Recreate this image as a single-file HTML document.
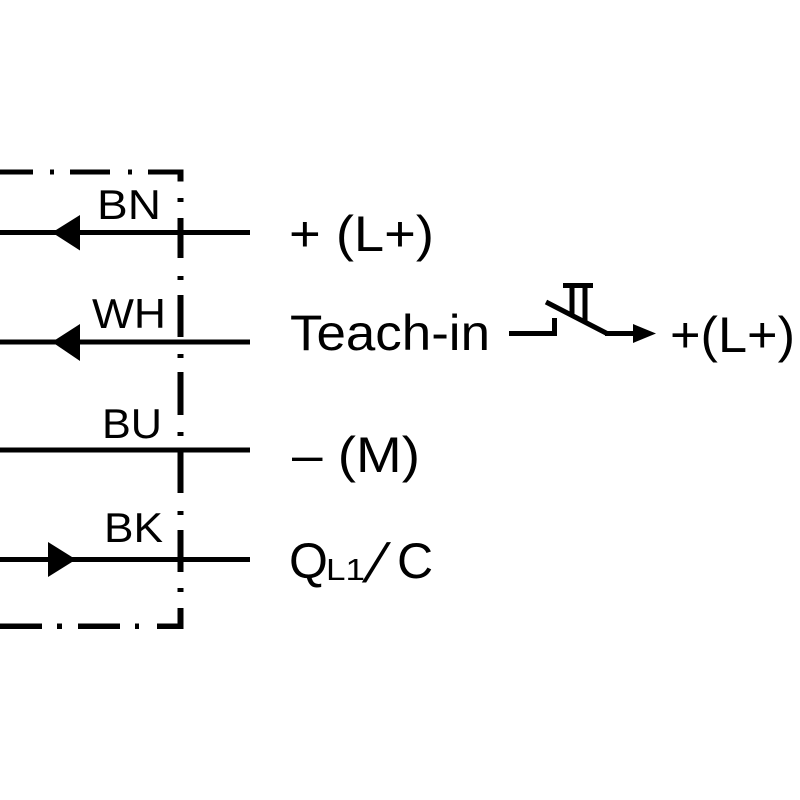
<!DOCTYPE html>
<html>
<head>
<meta charset="utf-8">
<style>
  html,body{margin:0;padding:0;background:#fff;}
  svg{display:block;}
  text{font-family:"Liberation Sans", sans-serif; fill:#000;}
</style>
</head>
<body>
<svg width="800" height="800" viewBox="0 0 800 800" xmlns="http://www.w3.org/2000/svg">
  <rect width="800" height="800" fill="#fff"/>

  <!-- Top border dash-dot -->
  <g fill="#000">
    <rect x="0" y="169.5" width="33" height="5"/>
    <rect x="50" y="169.5" width="4" height="5"/>
    <rect x="70" y="169.5" width="40" height="5"/>
    <rect x="128" y="169.5" width="4" height="5"/>
    <rect x="148" y="169.5" width="35.5" height="5"/>

    <!-- Bottom border -->
    <rect x="0" y="623.5" width="42" height="5.5"/>
    <rect x="57" y="623.5" width="5" height="5.5"/>
    <rect x="78" y="623.5" width="42" height="5.5"/>
    <rect x="135" y="623.5" width="4" height="5.5"/>
    <rect x="157" y="623.5" width="26.5" height="5.5"/>

    <!-- Vertical right border -->
    <rect x="177.5" y="169.5" width="6" height="12"/>
    <rect x="177.5" y="198" width="6" height="4"/>
    <rect x="177.5" y="218" width="6" height="40"/>
    <rect x="177.5" y="276" width="6" height="4"/>
    <rect x="177.5" y="295" width="6" height="42"/>
    <rect x="177.5" y="354" width="6" height="4"/>
    <rect x="177.5" y="372" width="6" height="43"/>
    <rect x="177.5" y="432" width="6" height="4"/>
    <rect x="177.5" y="450" width="6" height="43"/>
    <rect x="177.5" y="511" width="6" height="4"/>
    <rect x="177.5" y="530" width="6" height="42"/>
    <rect x="177.5" y="588" width="6" height="4"/>
    <rect x="177.5" y="608" width="6" height="21"/>

    <!-- Wires -->
    <rect x="0" y="230" width="250" height="5"/>
    <rect x="0" y="339.5" width="250" height="5"/>
    <rect x="0" y="447.5" width="250" height="5"/>
    <rect x="0" y="557" width="250" height="5"/>

    <!-- Arrowheads -->
    <polygon points="52,232.5 80,215 80,250.5"/>
    <polygon points="52,342 80,324 80,361"/>
    <polygon points="76,559.5 48,542 48,577"/>
  </g>

  <!-- Wire labels -->
  <text x="97" y="219" font-size="42" textLength="64" lengthAdjust="spacingAndGlyphs">BN</text>
  <text x="92" y="328" font-size="42" textLength="74" lengthAdjust="spacingAndGlyphs">WH</text>
  <text x="102" y="438" font-size="42" textLength="60" lengthAdjust="spacingAndGlyphs">BU</text>
  <text x="104" y="542" font-size="42" textLength="59" lengthAdjust="spacingAndGlyphs">BK</text>

  <!-- Right labels -->
  <text x="289" y="251" font-size="50" textLength="145" lengthAdjust="spacingAndGlyphs">+ (L+)</text>
  <text x="290" y="350" font-size="50" textLength="200" lengthAdjust="spacingAndGlyphs">Teach-in</text>
  <text x="292" y="472" font-size="50" textLength="128" lengthAdjust="spacingAndGlyphs">– (M)</text>

  <text x="289" y="578" font-size="50">Q</text>
  <text x="326" y="580" font-size="31" textLength="39" lengthAdjust="spacingAndGlyphs">L1</text>
  <text transform="translate(362,582) skewX(-19)" x="0" y="0" font-size="55">/</text>
  <text x="397" y="578" font-size="50">C</text>

  <!-- Teach-in switch -->
  <g stroke="#000" stroke-width="5" fill="none" stroke-linecap="butt">
    <line x1="509" y1="333.5" x2="557" y2="333.5"/>
    <line x1="554.5" y1="318" x2="554.5" y2="336"/>
    <line x1="546" y1="302" x2="607" y2="333.5"/>
    <line x1="605" y1="333.5" x2="636" y2="333.5"/>
    <line x1="572" y1="286" x2="572" y2="316"/>
    <line x1="585" y1="286" x2="585" y2="322"/>
    <line x1="563" y1="285.5" x2="593" y2="285.5"/>
  </g>
  <polygon points="656,333.5 633,324 633,343" fill="#000"/>

  <text x="670" y="352" font-size="50" textLength="125" lengthAdjust="spacingAndGlyphs">+(L+)</text>
</svg>
</body>
</html>
